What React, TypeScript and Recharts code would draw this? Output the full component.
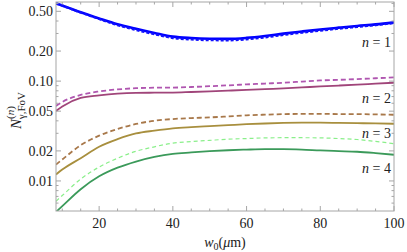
import React from "react";
import { LineChart, Line, XAxis, YAxis } from "recharts";

// beam waist w0 (µm)
const w0 = [8.3, 10, 15, 20, 25, 30, 35, 40, 45, 50, 55, 60, 65, 70, 75, 80, 85, 90, 95, 100];

const n1Solid = [0.601, 0.572, 0.489, 0.424, 0.371, 0.334, 0.304, 0.279, 0.27, 0.266, 0.265, 0.271, 0.283, 0.299, 0.314, 0.329, 0.343, 0.357, 0.37, 0.388];
const n1Dashed = [0.601, 0.57, 0.486, 0.419, 0.363, 0.325, 0.295, 0.27, 0.261, 0.257, 0.256, 0.262, 0.274, 0.29, 0.305, 0.32, 0.335, 0.349, 0.363, 0.382];
const n2Solid = [0.0502, 0.0557, 0.0678, 0.0719, 0.0748, 0.0762, 0.0765, 0.0767, 0.0778, 0.079, 0.0803, 0.0816, 0.083, 0.0845, 0.0864, 0.0885, 0.0903, 0.0922, 0.0943, 0.0964];
const n2Dashed = [0.0564, 0.0618, 0.0727, 0.0788, 0.0826, 0.0849, 0.0859, 0.0861, 0.0873, 0.0889, 0.0907, 0.0927, 0.0945, 0.0964, 0.099, 0.1016, 0.103, 0.1047, 0.1068, 0.1089];
const n3Solid = [0.0116, 0.013, 0.0169, 0.022, 0.0262, 0.0299, 0.0319, 0.0336, 0.0346, 0.0354, 0.0362, 0.037, 0.0376, 0.0381, 0.0383, 0.0383, 0.0381, 0.0379, 0.0377, 0.0374];
const n3Dashed = [0.0146, 0.0164, 0.0228, 0.0284, 0.0331, 0.0372, 0.0401, 0.0417, 0.0426, 0.0433, 0.0443, 0.0454, 0.0461, 0.0467, 0.0469, 0.0469, 0.0468, 0.0467, 0.0464, 0.046];
const n4Solid = [0.0049, 0.0056, 0.00827, 0.01112, 0.01357, 0.01565, 0.01741, 0.0187, 0.0193, 0.01985, 0.0203, 0.0206, 0.0208, 0.0208, 0.0206, 0.0202, 0.0199, 0.0196, 0.019, 0.0183];
const n4Dashed = [0.00626, 0.00714, 0.01045, 0.01378, 0.01689, 0.01981, 0.02198, 0.02394, 0.0248, 0.0255, 0.0262, 0.0266, 0.027, 0.0271, 0.0271, 0.027, 0.0266, 0.026, 0.0249, 0.0236];

const xMajor = [20, 40, 60, 80, 100];
const xTicks = [10, 15, 20, 25, 30, 35, 40, 45, 50, 55, 60, 65, 70, 75, 80, 85, 90, 95, 100];
const yMajor = [0.01, 0.02, 0.05, 0.1, 0.2, 0.5];
const yMajorLabels = ["0.01", "0.02", "0.05", "0.10", "0.20", "0.50"];
const yTicks = [0.006, 0.007, 0.008, 0.009, 0.01, 0.02, 0.03, 0.04, 0.05, 0.06, 0.07, 0.08, 0.09, 0.1, 0.2, 0.3, 0.4, 0.5, 0.6];

const data = w0.map((w, i) => ({
  w,
  n1s: n1Solid[i],
  n1d: n1Dashed[i],
  n2s: n2Solid[i],
  n2d: n2Dashed[i],
  n3s: n3Solid[i],
  n3d: n3Dashed[i],
  n4s: n4Solid[i],
  n4d: n4Dashed[i],
}));

const W = 407;
const H = 252;
const AXIS_W = 56;
const AXIS_H = 41;
const MARGIN = { top: 2, right: 13, bottom: 0, left: 0 };
const PLOT_L = MARGIN.left + AXIS_W;
const PLOT_R = W - MARGIN.right;
const PLOT_T = MARGIN.top;
const PLOT_B = H - AXIS_H;

const FONT = "'Liberation Serif', 'DejaVu Serif', serif";
const FRAME = "#a6a6a6";

function XTick(props: any) {
  const { x, payload } = props;
  const v = payload.value;
  const major = xMajor.includes(v);
  const len = major ? 5 : 2.5;
  return (
    <g>
      <line x1={x} x2={x} y1={PLOT_B} y2={PLOT_B - len} stroke={FRAME} />
      <line x1={x} x2={x} y1={PLOT_T} y2={PLOT_T + len} stroke={FRAME} />
      {major && (
        <text x={x} y={PLOT_B + 16.5} textAnchor="middle" fontFamily={FONT} fontSize={14} fill="#222">
          {v}
        </text>
      )}
    </g>
  );
}

function YTick(props: any) {
  const { y, payload } = props;
  const v = payload.value;
  const idx = yMajor.indexOf(v);
  const len = idx >= 0 ? 5 : 2.5;
  return (
    <g>
      <line x1={PLOT_L} x2={PLOT_L + len} y1={y} y2={y} stroke={FRAME} />
      <line x1={PLOT_R} x2={PLOT_R - len} y1={y} y2={y} stroke={FRAME} />
      {idx >= 0 && (
        <text x={PLOT_L - 3} y={y} dy="0.35em" textAnchor="end" fontFamily={FONT} fontSize={14} fill="#222">
          {yMajorLabels[idx]}
        </text>
      )}
    </g>
  );
}

const nLabels = [
  { n: "1", y: 46.5 },
  { n: "2", y: 103 },
  { n: "3", y: 138 },
  { n: "4", y: 173 },
];

export default function App() {
  return (
    <div style={{ position: "absolute", left: 0, top: 0, width: W, height: H, background: "#fff" }}>
      <LineChart width={W} height={H} data={data} margin={MARGIN}>
        <XAxis
          dataKey="w"
          type="number"
          domain={[8.3, 100]}
          allowDataOverflow
          ticks={xTicks}
          interval={0}
          height={AXIS_H}
          tickSize={0}
          tickMargin={0}
          axisLine={false}
          tickLine={false}
          tick={(p: any) => <XTick {...p} />}
        />
        <YAxis
          type="number"
          scale="log"
          domain={[0.005, 0.62]}
          allowDataOverflow
          ticks={yTicks}
          interval={0}
          width={AXIS_W}
          tickSize={0}
          tickMargin={0}
          axisLine={false}
          tickLine={false}
          tick={(p: any) => <YTick {...p} />}
        />
        <Line type="monotone" dataKey="n1s" stroke="#0000ff" strokeWidth={2.6} dot={false} isAnimationActive={false} />
        <Line type="monotone" dataKey="n1d" stroke="#1010ff" strokeWidth={2.2} strokeDasharray="3 2" dot={false} isAnimationActive={false} />
        <Line type="monotone" dataKey="n2s" stroke="#a0457a" strokeWidth={1.8} dot={false} isAnimationActive={false} />
        <Line type="monotone" dataKey="n2d" stroke="#b056b0" strokeWidth={1.8} strokeDasharray="5 3" dot={false} isAnimationActive={false} />
        <Line type="monotone" dataKey="n3s" stroke="#a88f3e" strokeWidth={1.8} dot={false} isAnimationActive={false} />
        <Line type="monotone" dataKey="n3d" stroke="#a8784a" strokeWidth={1.8} strokeDasharray="5 3" dot={false} isAnimationActive={false} />
        <Line type="monotone" dataKey="n4s" stroke="#3b9a5a" strokeWidth={1.8} dot={false} isAnimationActive={false} />
        <Line type="monotone" dataKey="n4d" stroke="#8aef8a" strokeWidth={1.2} strokeDasharray="4 3" dot={false} isAnimationActive={false} />
      </LineChart>
      <svg width={W} height={H} style={{ position: "absolute", left: 0, top: 0, pointerEvents: "none" }}>
        <rect x={PLOT_L} y={PLOT_T} width={PLOT_R - PLOT_L} height={PLOT_B - PLOT_T} fill="none" stroke={FRAME} />
        {nLabels.map((l) => (
          <text key={l.n} x={391} y={l.y} textAnchor="end" fontFamily={FONT} fontSize={14} fill="#222">
            <tspan fontStyle="italic">n</tspan>
            <tspan>{" = " + l.n}</tspan>
          </text>
        ))}
        <text x={(PLOT_L + PLOT_R) / 2} y={247} textAnchor="middle" fontFamily={FONT} fontSize={14} fill="#222">
          <tspan fontStyle="italic">w</tspan>
          <tspan fontSize={10} dy={3}>0</tspan>
          <tspan dy={-3}>(</tspan>
          <tspan fontStyle="italic">μ</tspan>
          <tspan>m)</tspan>
        </text>
        <text transform="translate(21,129) rotate(-90)" fontFamily={FONT} fontSize={15} fill="#222">
          <tspan fontStyle="italic">N</tspan>
          <tspan fontSize={11} dy={-7}>(</tspan>
          <tspan fontSize={11} fontStyle="italic">n</tspan>
          <tspan fontSize={11}>)</tspan>
          <tspan fontSize={11} dx={-13} dy={11}>γ,FoV</tspan>
        </text>
      </svg>
    </div>
  );
}
